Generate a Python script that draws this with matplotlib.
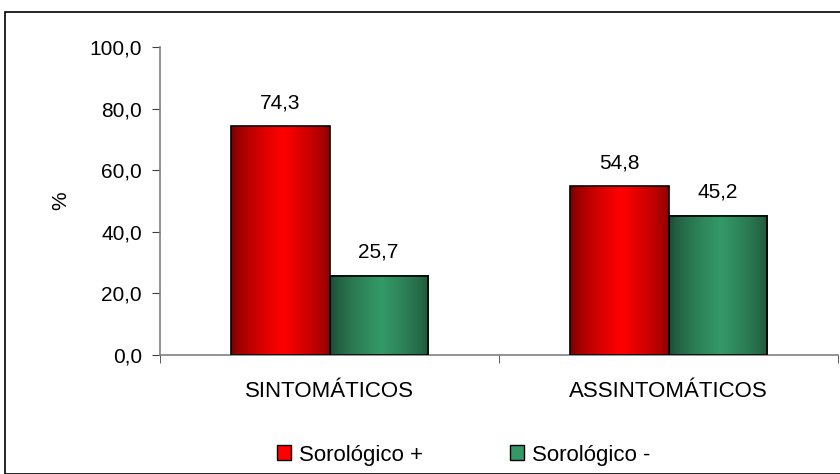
import numpy as np
import matplotlib
matplotlib.use("Agg")
import matplotlib.pyplot as plt
from matplotlib.colors import LinearSegmentedColormap
from matplotlib.patches import Rectangle, Patch

categories = ["SINTOMÁTICOS", "ASSINTOMÁTICOS"]
series_names = ["Sorológico +", "Sorológico -"]
pos_values = [74.3, 54.8]
neg_values = [25.7, 45.2]
yticks = [0, 20, 40, 60, 80, 100]

plt.rcParams['font.family'] = ['Liberation Sans', 'DejaVu Sans']

fig = plt.figure(figsize=(8.4, 4.74), dpi=100)
ax = fig.add_axes([160/840, 1-355/474, 678/840, 308/474])

cmap_red = LinearSegmentedColormap.from_list("r", ["#6e0000", "#ff0000"])
cmap_green = LinearSegmentedColormap.from_list("g", ["#1b4530", "#339966"])
t = np.linspace(0, 1, 200)
prof = 1 - np.abs(t - 0.52) / 0.52
prof = np.clip(prof, 0, 1) ** 0.6
grad = prof[np.newaxis, :]

w = 0.29
centers = np.arange(len(categories)) + 0.5
for series, cmap, off in [(pos_values, cmap_red, -w/2),
                          (neg_values, cmap_green, w/2)]:
    for c, v in zip(centers, series):
        x0 = c + off - w/2
        ax.imshow(grad, cmap=cmap, extent=[x0, x0 + w, 0, v], aspect='auto',
                  vmin=0, vmax=1, zorder=2, interpolation='bilinear')
        rect = Rectangle((x0, 0), w, v, facecolor='none', edgecolor='black', lw=1.2, zorder=3)
        ax.add_patch(rect)
        ax.text(c + off, v + 4.5, f"{v:.1f}".replace('.', ','), ha='center', va='bottom',
                fontsize=15)

ax.set_xlim(0, 2)
ax.set_ylim(0, 100)
ax.set_yticks(yticks)
ax.set_yticklabels([f"{y:.1f}".replace('.', ',') for y in yticks], fontsize=15)
ax.set_xticks(centers)
ax.set_xticklabels(categories, fontsize=16)
ax.tick_params(axis='x', which='major', length=0, pad=19)
ax.set_xticks([0, 1, 2], minor=True)
ax.tick_params(axis='x', which='minor', length=6, color='#404040', direction='out')
ax.tick_params(axis='y', length=6, color='#404040', direction='out', pad=7)
for s in ['top', 'right']:
    ax.spines[s].set_visible(False)
for s in ['left', 'bottom']:
    ax.spines[s].set_color('#808080')
    ax.spines[s].set_linewidth(1.2)
ax.set_ylabel("%", fontsize=15, labelpad=14)

handles = [Patch(facecolor="#ff0000", edgecolor='black', label=series_names[0]),
           Patch(facecolor="#339966", edgecolor='black', label=series_names[1])]
fig.legend(handles=handles, loc='center left', bbox_to_anchor=(277/840, 1-455/474), ncol=2,
           frameon=False, fontsize=16, handlelength=0.63, handleheight=0.63,
           handletextpad=0.36, columnspacing=3.9, borderpad=0, borderaxespad=0)

fig.patches.append(Rectangle((5/840, 0), 1, 1-12/474, transform=fig.transFigure,
                             fill=False, edgecolor='black', lw=1.2))

fig.savefig("out.png", dpi=100)
